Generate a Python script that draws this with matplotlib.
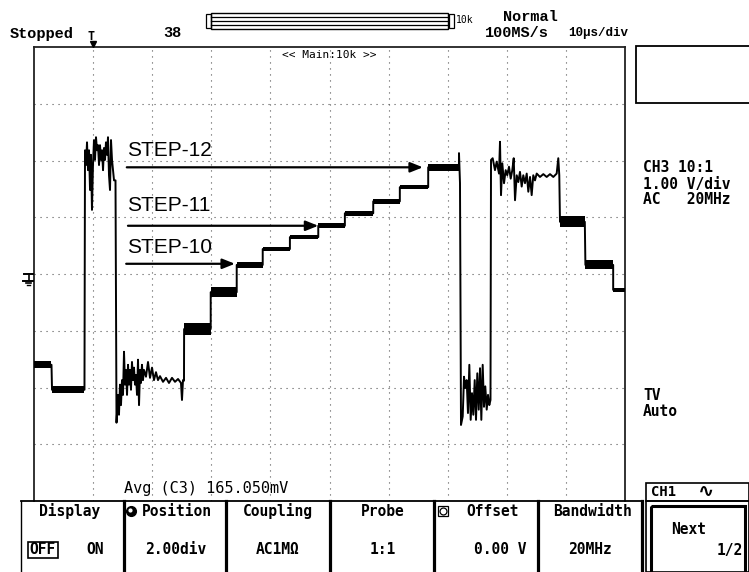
import matplotlib
matplotlib.use("Agg")
import matplotlib.pyplot as plt
from matplotlib.patches import Rectangle

W, H = 749, 572

# screen: 10 us/div x 10 div, 1 V/div x 8 div (0 V at the centre line)
plateau_start = [0.0, 3.05, 25.4, 29.9, 34.3, 38.7, 43.3, 48.1, 52.6, 57.4, 61.9, 66.7, 89.0, 93.3, 98.0]
plateau_end = [2.96, 8.46, 29.9, 34.3, 38.7, 43.3, 48.1, 52.6, 57.4, 61.9, 66.7, 71.9, 93.2, 98.0, 100.0]
plateau_level = [-1.60, -2.04, -0.97, -0.32, 0.16, 0.44, 0.65, 0.85, 1.07, 1.28, 1.53, 1.88, 0.92, 0.16, -0.28]
plateau_noise = [0.06, 0.06, 0.10, 0.09, 0.05, 0.04, 0.04, 0.04, 0.04, 0.04, 0.04, 0.06, 0.10, 0.08, 0.04]

# first sync pulse + the noisy low part after it
burst1_t = [8.54, 8.63, 8.80, 8.97, 9.14, 9.31, 9.48, 9.64, 9.81, 9.98, 10.15, 10.32, 10.49, 10.66,
            10.83, 11.00, 11.17, 11.34, 11.51, 11.68, 11.84, 12.01, 12.18, 12.35, 12.52, 12.69, 12.86,
            13.03, 13.20, 13.37, 13.54, 13.79, 13.96, 14.21, 14.38, 14.55, 14.72, 14.89, 15.06, 15.23,
            15.40, 15.57, 15.74, 15.91, 16.07, 16.24, 16.41, 16.58, 16.75, 16.92, 17.09, 17.26, 17.43,
            17.60, 17.77, 17.94, 18.10, 18.27, 18.44, 18.61, 18.95, 19.29, 19.63, 19.97, 20.30, 20.64,
            20.98, 21.32, 21.83, 22.34, 22.84, 23.35, 23.86, 24.37, 24.87, 25.04, 25.21, 25.38]
burst1_v = [-2.04, 2.18, 1.92, 2.32, 1.83, 2.18, 1.48, 2.10, 1.13, 1.92, 2.36, 2.01, 2.41, 2.18,
            2.27, 1.92, 2.27, 2.01, 2.18, 1.83, 2.22, 2.01, 2.32, 2.10, 2.41, 1.74, 1.48,
            2.36, 2.01, 1.83, 1.65, 1.65, -2.62, -2.13, -2.48, -1.95, -2.31, -1.87, -2.13, -1.37,
            -1.95, -1.69, -2.13, -1.60, -1.95, -1.69, -2.04, -1.55, -1.87, -1.65, -1.95, -1.78, -2.13,
            -1.51, -2.31, -1.69, -1.92, -1.60, -1.87, -1.69, -1.81, -1.55, -1.83, -1.65, -1.87, -1.73,
            -1.87, -1.80, -1.90, -1.83, -1.92, -1.83, -1.90, -1.85, -1.92, -2.22, -1.87, -1.88]

# second pulse (low then high) before the falling steps
burst2_t = [71.91, 72.08, 72.25, 72.54, 72.76, 72.98, 73.21, 73.43, 73.66, 73.89, 74.11, 74.33,
            74.57, 74.79, 75.01, 75.25, 75.47, 75.69, 75.92, 76.14, 76.36, 76.60, 76.82, 77.04,
            77.24, 77.33, 77.61, 78.00, 78.29, 78.68, 78.85, 79.02, 79.24, 79.53, 79.81, 80.08,
            80.37, 80.66, 80.93, 81.17, 81.39, 81.68, 81.95, 82.23, 82.52, 82.79, 83.08, 83.37,
            83.64, 83.93, 84.21, 84.48, 84.77, 85.06, 85.62, 86.18, 86.75, 87.31, 87.87, 88.44,
            88.71, 88.88]
burst2_v = [2.13, 1.60, -2.66, -2.51, -1.81, -2.01, -1.87, -2.45, -1.60, -2.57, -2.10, -2.48,
            -1.87, -2.57, -1.75, -2.39, -1.66, -2.57, -1.60, -2.34, -1.98, -2.39, -2.13, -2.31,
            -2.22, 2.01, 2.04, 1.83, 1.98, 1.77, 2.33, 1.39, 1.95, 1.60, 1.83, 1.74,
            1.89, 1.68, 1.83, 2.04, 1.30, 1.74, 1.62, 1.80, 1.54, 1.74, 1.60, 1.77,
            1.45, 1.71, 1.39, 1.74, 1.65, 1.77, 1.71, 1.76, 1.71, 1.76, 1.71, 1.77,
            2.04, 1.74]

step_names = ["STEP-12", "STEP-11", "STEP-10"]
step_text_v = [2.17, 1.20, 0.47]
step_arrow_v = [1.88, 0.85, 0.18]
step_arrow_from = [15.7, 15.9, 15.6]
step_arrow_to = [65.8, 48.1, 34.0]
step_text_t = 15.7

menu_titles = ["Display", "Position", "Coupling", "Probe", "Offset", "Bandwidth"]
menu_values = ["", "2.00div", "AC1M\u03a9", "1:1", "0.00 V", "20MHz"]
menu_title_x = [70, 177, 278, 383, 493, 592]
menu_value_x = [0, 176, 278, 383, 500, 590]

side_lines = ["CH3 10:1", "1.00 V/div", "AC   20MHz"]
trig_lines = ["TV", "Auto"]

MONO = "DejaVu Sans Mono"
HEAD = "Liberation Mono"

fig = plt.figure(figsize=(W / 100, H / 100), dpi=100)
fig.patch.set_facecolor("white")

# ---- scope screen ----
scope = fig.add_axes([34 / W, (H - 501) / H, 591 / W, 454 / H], zorder=1)
scope.set_xlim(0, 100)
scope.set_ylim(-4, 4)
scope.set_xticks(range(10, 100, 10))
scope.set_yticks(range(-3, 4))
scope.tick_params(length=0, labelbottom=False, labelleft=False)
scope.grid(True, color="#555555", lw=0.8, linestyle=(0, (1, 4.4)))
for side in ("left", "top", "right"):
    scope.spines[side].set_linewidth(1.3)
    scope.spines[side].set_color("#222222")
scope.spines["bottom"].set_visible(False)

pts = []
for t0, t1, lv in zip(plateau_start, plateau_end, plateau_level):
    pts.append((t0, lv))
    pts.append((t1, lv))
pts += list(zip(burst1_t, burst1_v)) + list(zip(burst2_t, burst2_v))
pts.sort(key=lambda p: p[0])
scope.plot([p[0] for p in pts], [p[1] for p in pts], color="black", lw=1.4, zorder=3)
for t0, t1, lv, hw in zip(plateau_start, plateau_end, plateau_level, plateau_noise):
    scope.fill_between([t0, t1], [lv - hw] * 2, [lv + hw] * 2, color="black", lw=0, zorder=3)

for name, tv, av, a0, a1 in zip(step_names, step_text_v, step_arrow_v, step_arrow_from, step_arrow_to):
    scope.text(step_text_t, tv, name, family="Liberation Sans", fontsize=15, va="center", ha="left", zorder=4)
    scope.annotate("", xy=(a1, av), xytext=(a0, av),
                   arrowprops=dict(arrowstyle="-|>,head_length=1.0,head_width=0.4", mutation_scale=7.5,
                                   lw=1.6, color="black", shrinkA=0, shrinkB=0), zorder=4)

# ---- instrument UI, in pixel coordinates ----
ui = fig.add_axes([0, 0, 1, 1], zorder=2)
ui.set_xlim(0, W)
ui.set_ylim(H, 0)
ui.axis("off")
ui.patch.set_alpha(0)

ui.text(10, 34, "Stopped", family=HEAD, weight="bold", fontsize=11, va="center")
ui.text(163, 33, "38", family=HEAD, weight="bold", fontsize=11, va="center")
ui.text(503, 17, "Normal", family=HEAD, weight="bold", fontsize=11, va="center")
ui.text(485, 33, "100MS/s", family=HEAD, weight="bold", fontsize=11, va="center")
ui.text(568, 33, "10\u03bcs/div", family=HEAD, weight="bold", fontsize=9, va="center")

# trigger position mark
ui.text(91, 37, "T", family=MONO, weight="bold", fontsize=8.5, ha="center", va="center")
ui.plot(92.5, 43.5, marker="v", ms=5, color="black")

# zoom bar
ui.add_patch(Rectangle((211, 13), 237, 16, fill=False, lw=1.0, ec="black"))
for y in (17, 21, 25):
    ui.plot([211, 448], [y, y], color="black", lw=0.9)
ui.add_patch(Rectangle((206, 14), 4.5, 14, fill=False, lw=0.9, ec="black"))
ui.add_patch(Rectangle((449, 14), 4.5, 14, fill=False, lw=0.9, ec="black"))
ui.text(456, 20, "10k", family=MONO, fontsize=7, va="center")

ui.text(329, 55, "<< Main:10k >>", family=MONO, fontsize=8, ha="center", va="center")

# right info panel
ui.add_patch(Rectangle((636, 46), 114, 57, fill=False, lw=1.3, ec="black"))
for i, s in enumerate(side_lines):
    ui.text(643, 168 + 16 * i, s, family=MONO, weight="bold", fontsize=10.5, va="center")
for i, s in enumerate(trig_lines):
    ui.text(643, 395 + 16 * i, s, family=MONO, weight="bold", fontsize=10.5, va="center")

# ground marker
ui.plot([24, 33], [274, 274], color="black", lw=1.4)
ui.plot([28.5, 28.5], [274, 280], color="black", lw=1.2)
ui.plot([23, 33], [280.5, 280.5], color="black", lw=1.4)
ui.plot([25.5, 31], [282.8, 282.8], color="black", lw=1.2)
ui.plot([27, 29.5], [285, 285], color="black", lw=1.0)

ui.text(124, 489, "Avg (C3) 165.050mV", family=MONO, fontsize=11, va="center")

# CH1 tab
ui.add_patch(Rectangle((646, 483), 103, 18, fill=False, lw=1.2, ec="black"))
ui.text(651, 492, "CH1", family=MONO, weight="bold", fontsize=10, va="center")
ui.text(706, 491, "\u223f", family="DejaVu Sans", weight="bold", fontsize=14, ha="center", va="center")

# soft-key menu
ui.plot([20.5, 643], [501, 501], color="black", lw=1.3)
ui.plot([21, 21], [501, 572], color="black", lw=1.0)
for x in (124, 226, 330, 434, 538, 642):
    ui.plot([x, x], [501, 572], color="black", lw=2.3)
for s, x in zip(menu_titles, menu_title_x):
    ui.text(x, 511, s, family=MONO, weight="bold", fontsize=10.5, ha="center", va="center")
for s, x in zip(menu_values[1:], menu_value_x[1:]):
    ui.text(x, 550, s, family=MONO, weight="bold", fontsize=10.5, ha="center", va="center")
ui.add_patch(Rectangle((28, 542), 30, 16, fill=False, lw=1.2, ec="black"))
ui.text(43, 550, "OFF", family=MONO, weight="bold", fontsize=10.5, ha="center", va="center")
ui.text(95, 550, "ON", family=MONO, weight="bold", fontsize=10.5, ha="center", va="center")
ui.plot(131, 511, marker="o", ms=7, color="black")
ui.plot(130, 510, marker="o", ms=2, color="white")
ui.add_patch(Rectangle((438, 506), 10, 10, fill=False, lw=0.9, ec="black"))
ui.plot(443, 511, marker="o", ms=5, mfc="white", mec="black", mew=0.9)

# Next key
ui.add_patch(Rectangle((646, 501), 103, 71, fill=False, lw=1.2, ec="black"))
ui.add_patch(Rectangle((651, 506), 94, 70, fill=False, lw=2.2, ec="black"))
ui.text(689, 529, "Next", family=MONO, weight="bold", fontsize=10.5, ha="center", va="center")
ui.text(743, 550, "1/2", family=MONO, weight="bold", fontsize=10.5, ha="right", va="center")

fig.savefig("out.png", dpi=100)
